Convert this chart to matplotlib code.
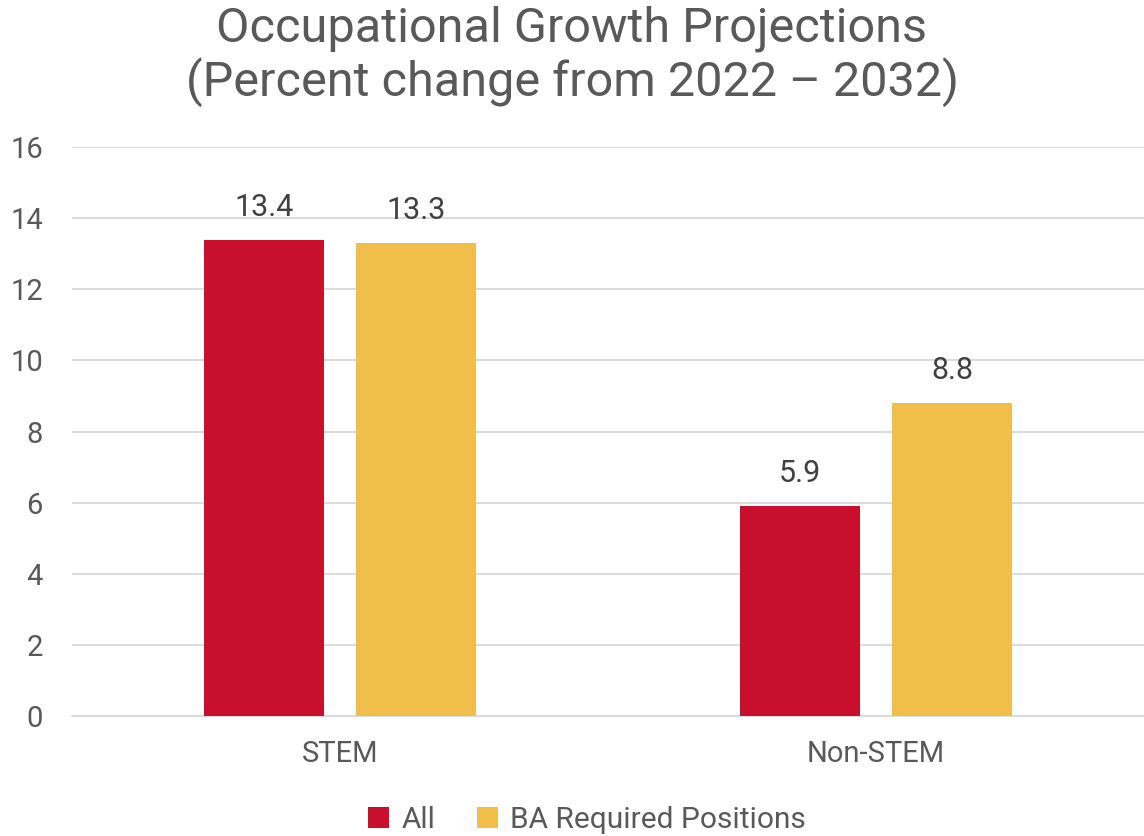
import matplotlib
matplotlib.use("Agg")
import matplotlib.pyplot as plt
import numpy as np

# data
categories = ["STEM", "Non-STEM"]
series_names = ["All", "BA Required Positions"]
all_vals = [13.4, 5.9]
ba_vals = [13.3, 8.8]

red = "#C8102E"
gold = "#F0BE4A"
grey = "#595959"

plt.rcParams['font.family'] = ['Roboto', 'DejaVu Sans']

fig = plt.figure(figsize=(11.44, 8.36), dpi=100)
ax = fig.add_axes([0.063, 0.1435, 0.937, 0.6805])

x = np.arange(len(categories))
w = 0.224
off = 0.142
b1 = ax.bar(x - off, all_vals, w, color=red, label=series_names[0], zorder=3)
b2 = ax.bar(x + off, ba_vals, w, color=gold, label=series_names[1], zorder=3)

for bars in (b1, b2):
    for r in bars:
        ax.text(r.get_x() + r.get_width() / 2, r.get_height() + 0.5, f"{r.get_height():.1f}",
                ha="center", va="bottom", fontsize=22, color="#404040")

ax.set_xlim(-0.5, 1.5)
ax.set_ylim(0, 16)
ax.set_yticks(range(0, 17, 2))
ax.set_xticks(x)
ax.set_xticklabels(categories)
ax.grid(axis="y", color="#D9D9D9", linewidth=1.3, zorder=0)
for s in ["top", "right", "left"]:
    ax.spines[s].set_visible(False)
ax.spines["bottom"].set_color("#D9D9D9")
ax.spines["bottom"].set_linewidth(1.3)
ax.tick_params(axis="both", length=0, labelsize=21, labelcolor=grey)
ax.tick_params(axis="y", pad=21)
ax.tick_params(axis="x", pad=17)

fig.suptitle("Occupational Growth Projections\n(Percent change from 2022 \u2013 2032)",
             fontsize=35, color=grey, y=0.994, va="top", linespacing=1.14)

leg = fig.legend(loc="lower center", bbox_to_anchor=(0.513, -0.03), ncol=2, frameon=False,
                 fontsize=21.5, handlelength=0.7, handleheight=0.7, handletextpad=0.4,
                 columnspacing=1.4)
for t in leg.get_texts():
    t.set_color(grey)

fig.savefig("out.png", dpi=100)
